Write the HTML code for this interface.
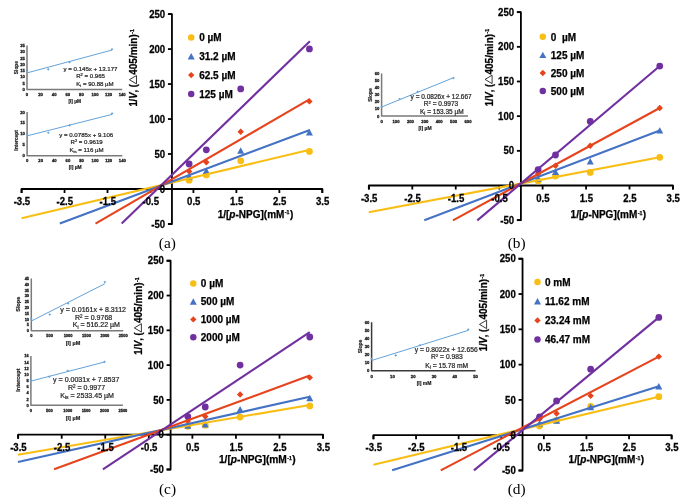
<!DOCTYPE html>
<html><head><meta charset="utf-8"><style>
html,body{margin:0;padding:0;background:#fff;width:685px;height:500px;overflow:hidden}
svg{display:block;filter:blur(0.4px)}
.m{font-weight:bold;fill:#000;stroke:#000;stroke-width:0.25px}
</style></head><body>
<svg width="685" height="500" viewBox="0 0 685 500" style="font-family:'Liberation Sans',sans-serif">
<rect width="685" height="500" fill="#fff"/>
<path d="M27 45.4V89.5H122.2" fill="none" stroke="#7a7a7a" stroke-linejoin="round" stroke-width="1.5"/>
<text x="24.8" y="91.01" text-anchor="end" font-size="4.2" font-weight="bold" fill="#1e1e1e" stroke="#1e1e1e" stroke-width="0.3" >0</text>
<text x="24.8" y="84.71" text-anchor="end" font-size="4.2" font-weight="bold" fill="#1e1e1e" stroke="#1e1e1e" stroke-width="0.3" >5</text>
<text x="24.8" y="78.41" text-anchor="end" font-size="4.2" font-weight="bold" fill="#1e1e1e" stroke="#1e1e1e" stroke-width="0.3" >10</text>
<text x="24.8" y="72.11" text-anchor="end" font-size="4.2" font-weight="bold" fill="#1e1e1e" stroke="#1e1e1e" stroke-width="0.3" >15</text>
<text x="24.8" y="65.81" text-anchor="end" font-size="4.2" font-weight="bold" fill="#1e1e1e" stroke="#1e1e1e" stroke-width="0.3" >20</text>
<text x="24.8" y="59.51" text-anchor="end" font-size="4.2" font-weight="bold" fill="#1e1e1e" stroke="#1e1e1e" stroke-width="0.3" >25</text>
<text x="24.8" y="53.21" text-anchor="end" font-size="4.2" font-weight="bold" fill="#1e1e1e" stroke="#1e1e1e" stroke-width="0.3" >30</text>
<text x="24.8" y="46.91" text-anchor="end" font-size="4.2" font-weight="bold" fill="#1e1e1e" stroke="#1e1e1e" stroke-width="0.3" >35</text>
<text x="27" y="96.11" text-anchor="middle" font-size="4.2" font-weight="bold" fill="#1e1e1e" stroke="#1e1e1e" stroke-width="0.3" >0</text>
<text x="40.6" y="96.11" text-anchor="middle" font-size="4.2" font-weight="bold" fill="#1e1e1e" stroke="#1e1e1e" stroke-width="0.3" >20</text>
<text x="54.2" y="96.11" text-anchor="middle" font-size="4.2" font-weight="bold" fill="#1e1e1e" stroke="#1e1e1e" stroke-width="0.3" >40</text>
<text x="67.8" y="96.11" text-anchor="middle" font-size="4.2" font-weight="bold" fill="#1e1e1e" stroke="#1e1e1e" stroke-width="0.3" >60</text>
<text x="81.4" y="96.11" text-anchor="middle" font-size="4.2" font-weight="bold" fill="#1e1e1e" stroke="#1e1e1e" stroke-width="0.3" >80</text>
<text x="95" y="96.11" text-anchor="middle" font-size="4.2" font-weight="bold" fill="#1e1e1e" stroke="#1e1e1e" stroke-width="0.3" >100</text>
<text x="108.6" y="96.11" text-anchor="middle" font-size="4.2" font-weight="bold" fill="#1e1e1e" stroke="#1e1e1e" stroke-width="0.3" >120</text>
<text x="122.2" y="96.11" text-anchor="middle" font-size="4.2" font-weight="bold" fill="#1e1e1e" stroke="#1e1e1e" stroke-width="0.3" >140</text>
<line x1="27" y1="72.9" x2="112" y2="50.06" stroke="#64A2D8" stroke-width="1.0"/>
<path d="M27 69.3l1.3 1.3l-1.3 1.3l-1.3 -1.3Z" fill="#64A2D8"/>
<path d="M48.22 68.04l1.3 1.3l-1.3 1.3l-1.3 -1.3Z" fill="#64A2D8"/>
<path d="M69.5 60.86l1.3 1.3l-1.3 1.3l-1.3 -1.3Z" fill="#64A2D8"/>
<path d="M112 47.88l1.3 1.3l-1.3 1.3l-1.3 -1.3Z" fill="#64A2D8"/>
<text transform="translate(17.73 67.6) rotate(-90)" text-anchor="middle" font-size="4.8" font-weight="bold" fill="#1e1e1e" stroke="#1e1e1e" stroke-width="0.2" >Slope</text>
<text x="74.7" y="103.03" text-anchor="middle" font-size="4.8" font-weight="bold" fill="#1e1e1e" stroke="#1e1e1e" stroke-width="0.2" >[I] µM</text>
<text x="63.6" y="71.1" font-size="6.1" fill="#262626" stroke="#262626" stroke-width="0.22" >y = 0.145x + 13.177</text>
<text x="76.2" y="78" font-size="6.1" fill="#262626" stroke="#262626" stroke-width="0.22" >R<tspan font-size="65%" dy="-2">2</tspan><tspan dy="2"> = 0.965</tspan></text>
<text x="76.2" y="85.5" font-size="6.1" fill="#262626" stroke="#262626" stroke-width="0.22" >K<tspan font-size="70%" dy="1.2">i</tspan><tspan dy="-1.2"> = 90.88 µM</tspan></text>
<path d="M27.1 112V155.8H122.3" fill="none" stroke="#7a7a7a" stroke-linejoin="round" stroke-width="1.5"/>
<text x="24.9" y="157.31" text-anchor="end" font-size="4.2" font-weight="bold" fill="#1e1e1e" stroke="#1e1e1e" stroke-width="0.3" >0</text>
<text x="24.9" y="146.36" text-anchor="end" font-size="4.2" font-weight="bold" fill="#1e1e1e" stroke="#1e1e1e" stroke-width="0.3" >5</text>
<text x="24.9" y="135.41" text-anchor="end" font-size="4.2" font-weight="bold" fill="#1e1e1e" stroke="#1e1e1e" stroke-width="0.3" >10</text>
<text x="24.9" y="124.46" text-anchor="end" font-size="4.2" font-weight="bold" fill="#1e1e1e" stroke="#1e1e1e" stroke-width="0.3" >15</text>
<text x="24.9" y="113.51" text-anchor="end" font-size="4.2" font-weight="bold" fill="#1e1e1e" stroke="#1e1e1e" stroke-width="0.3" >20</text>
<text x="27.1" y="162.11" text-anchor="middle" font-size="4.2" font-weight="bold" fill="#1e1e1e" stroke="#1e1e1e" stroke-width="0.3" >0</text>
<text x="40.7" y="162.11" text-anchor="middle" font-size="4.2" font-weight="bold" fill="#1e1e1e" stroke="#1e1e1e" stroke-width="0.3" >20</text>
<text x="54.3" y="162.11" text-anchor="middle" font-size="4.2" font-weight="bold" fill="#1e1e1e" stroke="#1e1e1e" stroke-width="0.3" >40</text>
<text x="67.9" y="162.11" text-anchor="middle" font-size="4.2" font-weight="bold" fill="#1e1e1e" stroke="#1e1e1e" stroke-width="0.3" >60</text>
<text x="81.5" y="162.11" text-anchor="middle" font-size="4.2" font-weight="bold" fill="#1e1e1e" stroke="#1e1e1e" stroke-width="0.3" >80</text>
<text x="95.1" y="162.11" text-anchor="middle" font-size="4.2" font-weight="bold" fill="#1e1e1e" stroke="#1e1e1e" stroke-width="0.3" >100</text>
<text x="108.7" y="162.11" text-anchor="middle" font-size="4.2" font-weight="bold" fill="#1e1e1e" stroke="#1e1e1e" stroke-width="0.3" >120</text>
<text x="122.3" y="162.11" text-anchor="middle" font-size="4.2" font-weight="bold" fill="#1e1e1e" stroke="#1e1e1e" stroke-width="0.3" >140</text>
<line x1="27.1" y1="135.86" x2="112.1" y2="114.37" stroke="#64A2D8" stroke-width="1.0"/>
<path d="M27.1 132.6l1.3 1.3l-1.3 1.3l-1.3 -1.3Z" fill="#64A2D8"/>
<path d="M48.32 131.5l1.3 1.3l-1.3 1.3l-1.3 -1.3Z" fill="#64A2D8"/>
<path d="M69.6 124.06l1.3 1.3l-1.3 1.3l-1.3 -1.3Z" fill="#64A2D8"/>
<path d="M112.1 112.23l1.3 1.3l-1.3 1.3l-1.3 -1.3Z" fill="#64A2D8"/>
<text transform="translate(18.36 140.4) rotate(-90)" text-anchor="middle" font-size="4.9" font-weight="bold" fill="#1e1e1e" stroke="#1e1e1e" stroke-width="0.2" >Intercept</text>
<text x="75.1" y="168.76" text-anchor="middle" font-size="4.9" font-weight="bold" fill="#1e1e1e" stroke="#1e1e1e" stroke-width="0.2" >[I] µM</text>
<text x="59.3" y="136.5" font-size="6.1" fill="#262626" stroke="#262626" stroke-width="0.22" >y = 0.0785x + 9.106</text>
<text x="70.5" y="143.9" font-size="6.1" fill="#262626" stroke="#262626" stroke-width="0.22" >R<tspan font-size="65%" dy="-2">2</tspan><tspan dy="2"> = 0.9619</tspan></text>
<text x="69.5" y="151.5" font-size="6.1" fill="#262626" stroke="#262626" stroke-width="0.22" >K<tspan font-size="70%" dy="1.2">is</tspan><tspan dy="-1.2"> = 116 µM</tspan></text>
<path d="M381.6 73.4V116H468" fill="none" stroke="#7a7a7a" stroke-linejoin="round" stroke-width="1.5"/>
<text x="379.4" y="117.51" text-anchor="end" font-size="4.2" font-weight="bold" fill="#1e1e1e" stroke="#1e1e1e" stroke-width="0.3" >0</text>
<text x="379.4" y="110.41" text-anchor="end" font-size="4.2" font-weight="bold" fill="#1e1e1e" stroke="#1e1e1e" stroke-width="0.3" >10</text>
<text x="379.4" y="103.31" text-anchor="end" font-size="4.2" font-weight="bold" fill="#1e1e1e" stroke="#1e1e1e" stroke-width="0.3" >20</text>
<text x="379.4" y="96.21" text-anchor="end" font-size="4.2" font-weight="bold" fill="#1e1e1e" stroke="#1e1e1e" stroke-width="0.3" >30</text>
<text x="379.4" y="89.11" text-anchor="end" font-size="4.2" font-weight="bold" fill="#1e1e1e" stroke="#1e1e1e" stroke-width="0.3" >40</text>
<text x="379.4" y="82.01" text-anchor="end" font-size="4.2" font-weight="bold" fill="#1e1e1e" stroke="#1e1e1e" stroke-width="0.3" >50</text>
<text x="379.4" y="74.91" text-anchor="end" font-size="4.2" font-weight="bold" fill="#1e1e1e" stroke="#1e1e1e" stroke-width="0.3" >60</text>
<text x="381.6" y="122.51" text-anchor="middle" font-size="4.2" font-weight="bold" fill="#1e1e1e" stroke="#1e1e1e" stroke-width="0.3" >0</text>
<text x="396" y="122.51" text-anchor="middle" font-size="4.2" font-weight="bold" fill="#1e1e1e" stroke="#1e1e1e" stroke-width="0.3" >100</text>
<text x="410.4" y="122.51" text-anchor="middle" font-size="4.2" font-weight="bold" fill="#1e1e1e" stroke="#1e1e1e" stroke-width="0.3" >200</text>
<text x="424.8" y="122.51" text-anchor="middle" font-size="4.2" font-weight="bold" fill="#1e1e1e" stroke="#1e1e1e" stroke-width="0.3" >300</text>
<text x="439.2" y="122.51" text-anchor="middle" font-size="4.2" font-weight="bold" fill="#1e1e1e" stroke="#1e1e1e" stroke-width="0.3" >400</text>
<text x="453.6" y="122.51" text-anchor="middle" font-size="4.2" font-weight="bold" fill="#1e1e1e" stroke="#1e1e1e" stroke-width="0.3" >500</text>
<text x="468" y="122.51" text-anchor="middle" font-size="4.2" font-weight="bold" fill="#1e1e1e" stroke="#1e1e1e" stroke-width="0.3" >600</text>
<line x1="381.6" y1="107.01" x2="453.6" y2="77.68" stroke="#64A2D8" stroke-width="1.0"/>
<path d="M381.6 105.68l1.3 1.3l-1.3 1.3l-1.3 -1.3Z" fill="#64A2D8"/>
<path d="M399.6 97.66l1.3 1.3l-1.3 1.3l-1.3 -1.3Z" fill="#64A2D8"/>
<path d="M417.6 90.56l1.3 1.3l-1.3 1.3l-1.3 -1.3Z" fill="#64A2D8"/>
<path d="M453.6 76.72l1.3 1.3l-1.3 1.3l-1.3 -1.3Z" fill="#64A2D8"/>
<text transform="translate(371.7 95) rotate(-90)" text-anchor="middle" font-size="5.0" font-weight="bold" fill="#1e1e1e" stroke="#1e1e1e" stroke-width="0.2" >Slope</text>
<text x="425" y="130.4" text-anchor="middle" font-size="5.0" font-weight="bold" fill="#1e1e1e" stroke="#1e1e1e" stroke-width="0.2" >[I] µM</text>
<text x="410.6" y="99.2" font-size="6.5" fill="#262626" stroke="#262626" stroke-width="0.22" >y = 0.0826x + 12.667</text>
<text x="423.8" y="106.3" font-size="6.5" fill="#262626" stroke="#262626" stroke-width="0.22" >R<tspan font-size="65%" dy="-2">2</tspan><tspan dy="2"> = 0.9973</tspan></text>
<text x="420" y="114.2" font-size="6.5" fill="#262626" stroke="#262626" stroke-width="0.22" >K<tspan font-size="70%" dy="1.2">i</tspan><tspan dy="-1.2"> = 153.35 µM</tspan></text>
<path d="M31.3 278.5V330.7H123.3" fill="none" stroke="#7a7a7a" stroke-linejoin="round" stroke-width="1.5"/>
<text x="29.1" y="332.14" text-anchor="end" font-size="4.0" font-weight="bold" fill="#1e1e1e" stroke="#1e1e1e" stroke-width="0.3" >0</text>
<text x="29.1" y="326.34" text-anchor="end" font-size="4.0" font-weight="bold" fill="#1e1e1e" stroke="#1e1e1e" stroke-width="0.3" >5</text>
<text x="29.1" y="320.54" text-anchor="end" font-size="4.0" font-weight="bold" fill="#1e1e1e" stroke="#1e1e1e" stroke-width="0.3" >10</text>
<text x="29.1" y="314.74" text-anchor="end" font-size="4.0" font-weight="bold" fill="#1e1e1e" stroke="#1e1e1e" stroke-width="0.3" >15</text>
<text x="29.1" y="308.94" text-anchor="end" font-size="4.0" font-weight="bold" fill="#1e1e1e" stroke="#1e1e1e" stroke-width="0.3" >20</text>
<text x="29.1" y="303.14" text-anchor="end" font-size="4.0" font-weight="bold" fill="#1e1e1e" stroke="#1e1e1e" stroke-width="0.3" >25</text>
<text x="29.1" y="297.34" text-anchor="end" font-size="4.0" font-weight="bold" fill="#1e1e1e" stroke="#1e1e1e" stroke-width="0.3" >30</text>
<text x="29.1" y="291.54" text-anchor="end" font-size="4.0" font-weight="bold" fill="#1e1e1e" stroke="#1e1e1e" stroke-width="0.3" >35</text>
<text x="29.1" y="285.74" text-anchor="end" font-size="4.0" font-weight="bold" fill="#1e1e1e" stroke="#1e1e1e" stroke-width="0.3" >40</text>
<text x="29.1" y="279.94" text-anchor="end" font-size="4.0" font-weight="bold" fill="#1e1e1e" stroke="#1e1e1e" stroke-width="0.3" >45</text>
<text x="31.3" y="337.44" text-anchor="middle" font-size="4.0" font-weight="bold" fill="#1e1e1e" stroke="#1e1e1e" stroke-width="0.3" >0</text>
<text x="49.7" y="337.44" text-anchor="middle" font-size="4.0" font-weight="bold" fill="#1e1e1e" stroke="#1e1e1e" stroke-width="0.3" >500</text>
<text x="68.1" y="337.44" text-anchor="middle" font-size="4.0" font-weight="bold" fill="#1e1e1e" stroke="#1e1e1e" stroke-width="0.3" >1000</text>
<text x="86.5" y="337.44" text-anchor="middle" font-size="4.0" font-weight="bold" fill="#1e1e1e" stroke="#1e1e1e" stroke-width="0.3" >1500</text>
<text x="104.9" y="337.44" text-anchor="middle" font-size="4.0" font-weight="bold" fill="#1e1e1e" stroke="#1e1e1e" stroke-width="0.3" >2000</text>
<text x="123.3" y="337.44" text-anchor="middle" font-size="4.0" font-weight="bold" fill="#1e1e1e" stroke="#1e1e1e" stroke-width="0.3" >2500</text>
<line x1="31.3" y1="321.06" x2="104.9" y2="283.71" stroke="#64A2D8" stroke-width="1.0"/>
<path d="M31.3 317.8l1.3 1.3l-1.3 1.3l-1.3 -1.3Z" fill="#64A2D8"/>
<path d="M49.7 313.16l1.3 1.3l-1.3 1.3l-1.3 -1.3Z" fill="#64A2D8"/>
<path d="M68.1 302.14l1.3 1.3l-1.3 1.3l-1.3 -1.3Z" fill="#64A2D8"/>
<path d="M104.9 280.68l1.3 1.3l-1.3 1.3l-1.3 -1.3Z" fill="#64A2D8"/>
<text transform="translate(20.38 304.2) rotate(-90)" text-anchor="middle" font-size="5.5" font-weight="bold" fill="#1e1e1e" stroke="#1e1e1e" stroke-width="0.2" >Slope</text>
<text x="73" y="344.98" text-anchor="middle" font-size="5.5" font-weight="bold" fill="#1e1e1e" stroke="#1e1e1e" stroke-width="0.2" >[I] µM</text>
<text x="60.3" y="312.1" font-size="7.05" fill="#262626" stroke="#262626" stroke-width="0.22" >y = 0.0161x + 8.3112</text>
<text x="75" y="320.3" font-size="7.05" fill="#262626" stroke="#262626" stroke-width="0.22" >R<tspan font-size="65%" dy="-2">2</tspan><tspan dy="2"> = 0.9768</tspan></text>
<text x="72.7" y="327.3" font-size="7.05" fill="#262626" stroke="#262626" stroke-width="0.22" >K<tspan font-size="70%" dy="1.2">i</tspan><tspan dy="-1.2"> = 516.22 µM</tspan></text>
<path d="M30.9 356.02V405.3H122.9" fill="none" stroke="#7a7a7a" stroke-linejoin="round" stroke-width="1.5"/>
<text x="28.7" y="406.74" text-anchor="end" font-size="4.0" font-weight="bold" fill="#1e1e1e" stroke="#1e1e1e" stroke-width="0.3" >0</text>
<text x="28.7" y="400.58" text-anchor="end" font-size="4.0" font-weight="bold" fill="#1e1e1e" stroke="#1e1e1e" stroke-width="0.3" >2</text>
<text x="28.7" y="394.42" text-anchor="end" font-size="4.0" font-weight="bold" fill="#1e1e1e" stroke="#1e1e1e" stroke-width="0.3" >4</text>
<text x="28.7" y="388.26" text-anchor="end" font-size="4.0" font-weight="bold" fill="#1e1e1e" stroke="#1e1e1e" stroke-width="0.3" >6</text>
<text x="28.7" y="382.1" text-anchor="end" font-size="4.0" font-weight="bold" fill="#1e1e1e" stroke="#1e1e1e" stroke-width="0.3" >8</text>
<text x="28.7" y="375.94" text-anchor="end" font-size="4.0" font-weight="bold" fill="#1e1e1e" stroke="#1e1e1e" stroke-width="0.3" >10</text>
<text x="28.7" y="369.78" text-anchor="end" font-size="4.0" font-weight="bold" fill="#1e1e1e" stroke="#1e1e1e" stroke-width="0.3" >12</text>
<text x="28.7" y="363.62" text-anchor="end" font-size="4.0" font-weight="bold" fill="#1e1e1e" stroke="#1e1e1e" stroke-width="0.3" >14</text>
<text x="28.7" y="357.46" text-anchor="end" font-size="4.0" font-weight="bold" fill="#1e1e1e" stroke="#1e1e1e" stroke-width="0.3" >16</text>
<text x="30.9" y="411.94" text-anchor="middle" font-size="4.0" font-weight="bold" fill="#1e1e1e" stroke="#1e1e1e" stroke-width="0.3" >0</text>
<text x="49.3" y="411.94" text-anchor="middle" font-size="4.0" font-weight="bold" fill="#1e1e1e" stroke="#1e1e1e" stroke-width="0.3" >500</text>
<text x="67.7" y="411.94" text-anchor="middle" font-size="4.0" font-weight="bold" fill="#1e1e1e" stroke="#1e1e1e" stroke-width="0.3" >1000</text>
<text x="86.1" y="411.94" text-anchor="middle" font-size="4.0" font-weight="bold" fill="#1e1e1e" stroke="#1e1e1e" stroke-width="0.3" >1500</text>
<text x="104.5" y="411.94" text-anchor="middle" font-size="4.0" font-weight="bold" fill="#1e1e1e" stroke="#1e1e1e" stroke-width="0.3" >2000</text>
<text x="122.9" y="411.94" text-anchor="middle" font-size="4.0" font-weight="bold" fill="#1e1e1e" stroke="#1e1e1e" stroke-width="0.3" >2500</text>
<line x1="30.9" y1="381.11" x2="104.5" y2="362.01" stroke="#64A2D8" stroke-width="1.0"/>
<path d="M30.9 379.36l1.3 1.3l-1.3 1.3l-1.3 -1.3Z" fill="#64A2D8"/>
<path d="M49.3 375.36l1.3 1.3l-1.3 1.3l-1.3 -1.3Z" fill="#64A2D8"/>
<path d="M67.7 369.5l1.3 1.3l-1.3 1.3l-1.3 -1.3Z" fill="#64A2D8"/>
<path d="M104.5 360.57l1.3 1.3l-1.3 1.3l-1.3 -1.3Z" fill="#64A2D8"/>
<text transform="translate(20.38 380.1) rotate(-90)" text-anchor="middle" font-size="5.5" font-weight="bold" fill="#1e1e1e" stroke="#1e1e1e" stroke-width="0.2" >Intercept</text>
<text x="73" y="419.98" text-anchor="middle" font-size="5.5" font-weight="bold" fill="#1e1e1e" stroke="#1e1e1e" stroke-width="0.2" >[I] µM</text>
<text x="53.1" y="382" font-size="7.05" fill="#262626" stroke="#262626" stroke-width="0.22" >y = 0.0031x + 7.8537</text>
<text x="67.9" y="390" font-size="7.05" fill="#262626" stroke="#262626" stroke-width="0.22" >R<tspan font-size="65%" dy="-2">2</tspan><tspan dy="2"> = 0.9977</tspan></text>
<text x="60.3" y="398.1" font-size="7.05" fill="#262626" stroke="#262626" stroke-width="0.22" >K<tspan font-size="70%" dy="1.2">is</tspan><tspan dy="-1.2"> = 2533.45 µM</tspan></text>
<path d="M371.6 322.2V370.8H475.6" fill="none" stroke="#3a3a3a" stroke-linejoin="round" stroke-width="1.5"/>
<text x="369.4" y="372.31" text-anchor="end" font-size="4.2" font-weight="bold" fill="#1e1e1e" stroke="#1e1e1e" stroke-width="0.3" >0</text>
<text x="369.4" y="364.21" text-anchor="end" font-size="4.2" font-weight="bold" fill="#1e1e1e" stroke="#1e1e1e" stroke-width="0.3" >10</text>
<text x="369.4" y="356.11" text-anchor="end" font-size="4.2" font-weight="bold" fill="#1e1e1e" stroke="#1e1e1e" stroke-width="0.3" >20</text>
<text x="369.4" y="348.01" text-anchor="end" font-size="4.2" font-weight="bold" fill="#1e1e1e" stroke="#1e1e1e" stroke-width="0.3" >30</text>
<text x="369.4" y="339.91" text-anchor="end" font-size="4.2" font-weight="bold" fill="#1e1e1e" stroke="#1e1e1e" stroke-width="0.3" >40</text>
<text x="369.4" y="331.81" text-anchor="end" font-size="4.2" font-weight="bold" fill="#1e1e1e" stroke="#1e1e1e" stroke-width="0.3" >50</text>
<text x="369.4" y="323.71" text-anchor="end" font-size="4.2" font-weight="bold" fill="#1e1e1e" stroke="#1e1e1e" stroke-width="0.3" >60</text>
<text x="371.6" y="378.11" text-anchor="middle" font-size="4.2" font-weight="bold" fill="#1e1e1e" stroke="#1e1e1e" stroke-width="0.3" >0</text>
<text x="392.4" y="378.11" text-anchor="middle" font-size="4.2" font-weight="bold" fill="#1e1e1e" stroke="#1e1e1e" stroke-width="0.3" >10</text>
<text x="413.2" y="378.11" text-anchor="middle" font-size="4.2" font-weight="bold" fill="#1e1e1e" stroke="#1e1e1e" stroke-width="0.3" >20</text>
<text x="434" y="378.11" text-anchor="middle" font-size="4.2" font-weight="bold" fill="#1e1e1e" stroke="#1e1e1e" stroke-width="0.3" >30</text>
<text x="454.8" y="378.11" text-anchor="middle" font-size="4.2" font-weight="bold" fill="#1e1e1e" stroke="#1e1e1e" stroke-width="0.3" >40</text>
<text x="475.6" y="378.11" text-anchor="middle" font-size="4.2" font-weight="bold" fill="#1e1e1e" stroke="#1e1e1e" stroke-width="0.3" >50</text>
<line x1="371.6" y1="360.55" x2="468.26" y2="330.35" stroke="#64A2D8" stroke-width="1.0"/>
<path d="M371.6 357.35l1.3 1.3l-1.3 1.3l-1.3 -1.3Z" fill="#64A2D8"/>
<path d="M395.77 354.11l1.3 1.3l-1.3 1.3l-1.3 -1.3Z" fill="#64A2D8"/>
<path d="M419.94 343.99l1.3 1.3l-1.3 1.3l-1.3 -1.3Z" fill="#64A2D8"/>
<path d="M468.26 328.19l1.3 1.3l-1.3 1.3l-1.3 -1.3Z" fill="#64A2D8"/>
<text transform="translate(362.3 346.5) rotate(-90)" text-anchor="middle" font-size="5.0" font-weight="bold" fill="#1e1e1e" stroke="#1e1e1e" stroke-width="0.2" >Slope</text>
<text x="424" y="385.4" text-anchor="middle" font-size="5.0" font-weight="bold" fill="#1e1e1e" stroke="#1e1e1e" stroke-width="0.2" >[I] mM</text>
<text x="414.8" y="352" font-size="6.7" fill="#262626" stroke="#262626" stroke-width="0.22" >y = 0.8022x + 12.656</text>
<text x="431" y="359.4" font-size="6.7" fill="#262626" stroke="#262626" stroke-width="0.22" >R<tspan font-size="65%" dy="-2">2</tspan><tspan dy="2"> = 0.983</tspan></text>
<text x="425.3" y="367.8" font-size="6.7" fill="#262626" stroke="#262626" stroke-width="0.22" >K<tspan font-size="70%" dy="1.2">i</tspan><tspan dy="-1.2"> = 15.78 mM</tspan></text>
<path d="M167.95 14.07H171.95V223.99H167.95" fill="none" stroke="#000" stroke-linejoin="round" stroke-width="1.8"/>
<line x1="167.95" y1="223.99" x2="171.95" y2="223.99" stroke="#000" stroke-width="1.8"/>
<line x1="167.95" y1="189" x2="171.95" y2="189" stroke="#000" stroke-width="1.8"/>
<line x1="167.95" y1="154.01" x2="171.95" y2="154.01" stroke="#000" stroke-width="1.8"/>
<line x1="167.95" y1="119.03" x2="171.95" y2="119.03" stroke="#000" stroke-width="1.8"/>
<line x1="167.95" y1="84.05" x2="171.95" y2="84.05" stroke="#000" stroke-width="1.8"/>
<line x1="167.95" y1="49.06" x2="171.95" y2="49.06" stroke="#000" stroke-width="1.8"/>
<line x1="167.95" y1="14.07" x2="171.95" y2="14.07" stroke="#000" stroke-width="1.8"/>
<path d="M21.59 193V189H322.31V193" fill="none" stroke="#000" stroke-linejoin="round" stroke-width="1.8"/>
<line x1="21.59" y1="189" x2="21.59" y2="193" stroke="#000" stroke-width="1.8"/>
<line x1="64.55" y1="189" x2="64.55" y2="193" stroke="#000" stroke-width="1.8"/>
<line x1="107.51" y1="189" x2="107.51" y2="193" stroke="#000" stroke-width="1.8"/>
<line x1="150.47" y1="189" x2="150.47" y2="193" stroke="#000" stroke-width="1.8"/>
<line x1="193.43" y1="189" x2="193.43" y2="193" stroke="#000" stroke-width="1.8"/>
<line x1="236.39" y1="189" x2="236.39" y2="193" stroke="#000" stroke-width="1.8"/>
<line x1="279.35" y1="189" x2="279.35" y2="193" stroke="#000" stroke-width="1.8"/>
<line x1="322.31" y1="189" x2="322.31" y2="193" stroke="#000" stroke-width="1.8"/>
<circle cx="189.13" cy="180.17" r="3.4" fill="#F8BE14"/>
<circle cx="206.32" cy="174.88" r="3.4" fill="#F8BE14"/>
<circle cx="240.69" cy="160.82" r="3.4" fill="#F8BE14"/>
<circle cx="309.42" cy="151.42" r="3.4" fill="#F8BE14"/>
<path d="M189.13 173.07L192.63 179.47L185.63 179.47Z" fill="#4472C4"/>
<path d="M206.32 167.5L209.82 173.9L202.82 173.9Z" fill="#4472C4"/>
<path d="M240.69 147.32L244.19 153.72L237.19 153.72Z" fill="#4472C4"/>
<path d="M309.42 129.02L312.92 135.42L305.92 135.42Z" fill="#4472C4"/>
<path d="M189.13 168.2L192.33 171.4L189.13 174.6L185.93 171.4Z" fill="#E6441C"/>
<path d="M206.32 159.01L209.52 162.21L206.32 165.41L203.12 162.21Z" fill="#E6441C"/>
<path d="M240.69 128.6L243.89 131.8L240.69 135L237.49 131.8Z" fill="#E6441C"/>
<path d="M309.42 98.18L312.62 101.38L309.42 104.58L306.22 101.38Z" fill="#E6441C"/>
<circle cx="189.13" cy="164.02" r="3.4" fill="#7030A0"/>
<circle cx="206.32" cy="149.82" r="3.4" fill="#7030A0"/>
<circle cx="240.69" cy="88.92" r="3.4" fill="#7030A0"/>
<circle cx="309.42" cy="48.9" r="3.4" fill="#7030A0"/>
<line x1="21.59" y1="218.17" x2="309.85" y2="149.82" stroke="#F8BE14" stroke-width="2.1"/>
<line x1="59.82" y1="223.6" x2="309.85" y2="129.92" stroke="#4472C4" stroke-width="2.1"/>
<line x1="95.48" y1="223.6" x2="309.85" y2="99.09" stroke="#E6441C" stroke-width="2.1"/>
<line x1="121.69" y1="223.6" x2="309.85" y2="41.25" stroke="#7030A0" stroke-width="2.1"/>
<text transform="translate(165.15 227.59) scale(1 1.06)" text-anchor="end" font-size="9.6" class="m">-50</text>
<text transform="translate(165.15 192.6) scale(1 1.06)" text-anchor="end" font-size="9.6" class="m">0</text>
<text transform="translate(165.15 157.61) scale(1 1.06)" text-anchor="end" font-size="9.6" class="m">50</text>
<text transform="translate(165.15 122.63) scale(1 1.06)" text-anchor="end" font-size="9.6" class="m">100</text>
<text transform="translate(165.15 87.64) scale(1 1.06)" text-anchor="end" font-size="9.6" class="m">150</text>
<text transform="translate(165.15 52.66) scale(1 1.06)" text-anchor="end" font-size="9.6" class="m">200</text>
<text transform="translate(165.15 17.67) scale(1 1.06)" text-anchor="end" font-size="9.6" class="m">250</text>
<text transform="translate(21.89 205.1) scale(1 1.06)" text-anchor="middle" font-size="9.6" class="m">-3.5</text>
<text transform="translate(64.85 205.1) scale(1 1.06)" text-anchor="middle" font-size="9.6" class="m">-2.5</text>
<text transform="translate(107.81 205.1) scale(1 1.06)" text-anchor="middle" font-size="9.6" class="m">-1.5</text>
<text transform="translate(150.77 205.1) scale(1 1.06)" text-anchor="middle" font-size="9.6" class="m">-0.5</text>
<text transform="translate(193.73 205.1) scale(1 1.06)" text-anchor="middle" font-size="9.6" class="m">0.5</text>
<text transform="translate(236.69 205.1) scale(1 1.06)" text-anchor="middle" font-size="9.6" class="m">1.5</text>
<text transform="translate(279.65 205.1) scale(1 1.06)" text-anchor="middle" font-size="9.6" class="m">2.5</text>
<text transform="translate(322.61 205.1) scale(1 1.06)" text-anchor="middle" font-size="9.6" class="m">3.5</text>
<text x="217.7" y="217.6" font-size="10" class="m">1/[<tspan font-style="italic">p</tspan>-NPG](mM<tspan font-size="5.2" dx="0.5" dy="-3.3">-1</tspan><tspan dx="0.4" dy="3.3">)</tspan></text>
<g transform="translate(137 106.6) rotate(-90)"><text x="0" y="0" font-size="10.0" class="m" textLength="22.4" lengthAdjust="spacingAndGlyphs">1/<tspan font-style="italic">V</tspan>, (</text><path d="M22.7 -0.5L31.1 -0.5L26.9 -7.6Z" fill="none" stroke="#222" stroke-width="0.9"/><text x="31.8" y="0" font-size="10.0" class="m">405/min)<tspan font-size="5.2" dx="0.5" dy="-3.3">-1</tspan></text></g>
<circle cx="191.2" cy="37.5" r="3.23" fill="#F8BE14"/>
<text x="199.2" y="41.3" font-size="10" class="m" xml:space="preserve">0 µM</text>
<path d="M191.2 53.1L194.7 59.5L187.7 59.5Z" fill="#4472C4"/>
<text x="199.2" y="60.1" font-size="10" class="m" xml:space="preserve">31.2 µM</text>
<path d="M191.2 71.9L194.4 75.1L191.2 78.3L188 75.1Z" fill="#E6441C"/>
<text x="199.2" y="78.9" font-size="10" class="m" xml:space="preserve">62.5 µM</text>
<circle cx="191.2" cy="93.9" r="3.23" fill="#7030A0"/>
<text x="199.2" y="97.7" font-size="10" class="m" xml:space="preserve">125 µM</text>
<text x="167.4" y="248.3" text-anchor="middle" font-size="15.4" style="font-family:'Liberation Serif',serif">(a)</text>
<path d="M516.9 12.17H520.9V220.16H516.9" fill="none" stroke="#000" stroke-linejoin="round" stroke-width="1.8"/>
<line x1="516.9" y1="220.16" x2="520.9" y2="220.16" stroke="#000" stroke-width="1.8"/>
<line x1="516.9" y1="185.5" x2="520.9" y2="185.5" stroke="#000" stroke-width="1.8"/>
<line x1="516.9" y1="150.84" x2="520.9" y2="150.84" stroke="#000" stroke-width="1.8"/>
<line x1="516.9" y1="116.17" x2="520.9" y2="116.17" stroke="#000" stroke-width="1.8"/>
<line x1="516.9" y1="81.5" x2="520.9" y2="81.5" stroke="#000" stroke-width="1.8"/>
<line x1="516.9" y1="46.84" x2="520.9" y2="46.84" stroke="#000" stroke-width="1.8"/>
<line x1="516.9" y1="12.17" x2="520.9" y2="12.17" stroke="#000" stroke-width="1.8"/>
<path d="M368.86 189.5V185.5H672.94V189.5" fill="none" stroke="#000" stroke-linejoin="round" stroke-width="1.8"/>
<line x1="368.86" y1="185.5" x2="368.86" y2="189.5" stroke="#000" stroke-width="1.8"/>
<line x1="412.3" y1="185.5" x2="412.3" y2="189.5" stroke="#000" stroke-width="1.8"/>
<line x1="455.74" y1="185.5" x2="455.74" y2="189.5" stroke="#000" stroke-width="1.8"/>
<line x1="499.18" y1="185.5" x2="499.18" y2="189.5" stroke="#000" stroke-width="1.8"/>
<line x1="542.62" y1="185.5" x2="542.62" y2="189.5" stroke="#000" stroke-width="1.8"/>
<line x1="586.06" y1="185.5" x2="586.06" y2="189.5" stroke="#000" stroke-width="1.8"/>
<line x1="629.5" y1="185.5" x2="629.5" y2="189.5" stroke="#000" stroke-width="1.8"/>
<line x1="672.94" y1="185.5" x2="672.94" y2="189.5" stroke="#000" stroke-width="1.8"/>
<circle cx="538.13" cy="181.01" r="3.4" fill="#F8BE14"/>
<circle cx="555.5" cy="176.01" r="3.4" fill="#F8BE14"/>
<circle cx="590.25" cy="172.39" r="3.4" fill="#F8BE14"/>
<circle cx="659.76" cy="157.31" r="3.4" fill="#F8BE14"/>
<path d="M538.13 175.45L541.63 181.85L534.63 181.85Z" fill="#4472C4"/>
<path d="M555.5 168.71L559 175.11L552 175.11Z" fill="#4472C4"/>
<path d="M590.25 158.01L593.75 164.41L586.75 164.41Z" fill="#4472C4"/>
<path d="M659.76 127.22L663.26 133.62L656.26 133.62Z" fill="#4472C4"/>
<path d="M538.13 170.59L541.33 173.78L538.13 176.98L534.93 173.78Z" fill="#E6441C"/>
<path d="M555.5 162.52L558.7 165.72L555.5 168.92L552.3 165.72Z" fill="#E6441C"/>
<path d="M590.25 142.58L593.45 145.78L590.25 148.98L587.05 145.78Z" fill="#E6441C"/>
<path d="M659.76 104.84L662.96 108.04L659.76 111.24L656.56 108.04Z" fill="#E6441C"/>
<circle cx="538.13" cy="169.62" r="3.4" fill="#7030A0"/>
<circle cx="555.5" cy="155.02" r="3.4" fill="#7030A0"/>
<circle cx="590.25" cy="121.38" r="3.4" fill="#7030A0"/>
<circle cx="659.76" cy="66.06" r="3.4" fill="#7030A0"/>
<line x1="368.71" y1="212.22" x2="659.76" y2="157.31" stroke="#F8BE14" stroke-width="2.1"/>
<line x1="424.31" y1="220.35" x2="659.76" y2="130.42" stroke="#4472C4" stroke-width="2.1"/>
<line x1="452.98" y1="220.35" x2="659.76" y2="108.04" stroke="#E6441C" stroke-width="2.1"/>
<line x1="477.31" y1="220.35" x2="659.76" y2="66.06" stroke="#7030A0" stroke-width="2.1"/>
<text transform="translate(514.1 223.76) scale(1 1.06)" text-anchor="end" font-size="9.6" class="m">-50</text>
<text transform="translate(514.1 189.1) scale(1 1.06)" text-anchor="end" font-size="9.6" class="m">0</text>
<text transform="translate(514.1 154.44) scale(1 1.06)" text-anchor="end" font-size="9.6" class="m">50</text>
<text transform="translate(514.1 119.77) scale(1 1.06)" text-anchor="end" font-size="9.6" class="m">100</text>
<text transform="translate(514.1 85.1) scale(1 1.06)" text-anchor="end" font-size="9.6" class="m">150</text>
<text transform="translate(514.1 50.44) scale(1 1.06)" text-anchor="end" font-size="9.6" class="m">200</text>
<text transform="translate(514.1 15.77) scale(1 1.06)" text-anchor="end" font-size="9.6" class="m">250</text>
<text transform="translate(369.16 201.6) scale(1 1.06)" text-anchor="middle" font-size="9.6" class="m">-3.5</text>
<text transform="translate(412.6 201.6) scale(1 1.06)" text-anchor="middle" font-size="9.6" class="m">-2.5</text>
<text transform="translate(456.04 201.6) scale(1 1.06)" text-anchor="middle" font-size="9.6" class="m">-1.5</text>
<text transform="translate(499.48 201.6) scale(1 1.06)" text-anchor="middle" font-size="9.6" class="m">-0.5</text>
<text transform="translate(542.92 201.6) scale(1 1.06)" text-anchor="middle" font-size="9.6" class="m">0.5</text>
<text transform="translate(586.36 201.6) scale(1 1.06)" text-anchor="middle" font-size="9.6" class="m">1.5</text>
<text transform="translate(629.8 201.6) scale(1 1.06)" text-anchor="middle" font-size="9.6" class="m">2.5</text>
<text transform="translate(673.24 201.6) scale(1 1.06)" text-anchor="middle" font-size="9.6" class="m">3.5</text>
<text x="570.6" y="217.8" font-size="10" class="m">1/[<tspan font-style="italic">p</tspan>-NPG](mM<tspan font-size="5.2" dx="0.5" dy="-3.3">-1</tspan><tspan dx="0.4" dy="3.3">)</tspan></text>
<g transform="translate(492.6 106.3) rotate(-90)"><text x="0" y="0" font-size="10.0" class="m" textLength="22.4" lengthAdjust="spacingAndGlyphs">1/<tspan font-style="italic">V</tspan>, (</text><path d="M22.7 -0.5L31.1 -0.5L26.9 -7.6Z" fill="none" stroke="#222" stroke-width="0.9"/><text x="31.8" y="0" font-size="10.0" class="m">405/min)<tspan font-size="5.2" dx="0.5" dy="-3.3">-1</tspan></text></g>
<circle cx="542.8" cy="36.8" r="3.23" fill="#F8BE14"/>
<text x="550.8" y="40.6" font-size="10" class="m" xml:space="preserve">0  µM</text>
<path d="M542.8 51.7L546.3 58.1L539.3 58.1Z" fill="#4472C4"/>
<text x="550.8" y="58.7" font-size="10" class="m" xml:space="preserve">125 µM</text>
<path d="M542.8 69.8L546 73L542.8 76.2L539.6 73Z" fill="#E6441C"/>
<text x="550.8" y="76.8" font-size="10" class="m" xml:space="preserve">250 µM</text>
<circle cx="542.8" cy="91.1" r="3.23" fill="#7030A0"/>
<text x="550.8" y="94.9" font-size="10" class="m" xml:space="preserve">500 µM</text>
<text x="516.7" y="248.3" text-anchor="middle" font-size="15.4" style="font-family:'Liberation Serif',serif">(b)</text>
<path d="M166.6 260.75H170.6V469.49H166.6" fill="none" stroke="#000" stroke-linejoin="round" stroke-width="1.8"/>
<line x1="166.6" y1="469.49" x2="170.6" y2="469.49" stroke="#000" stroke-width="1.8"/>
<line x1="166.6" y1="434.7" x2="170.6" y2="434.7" stroke="#000" stroke-width="1.8"/>
<line x1="166.6" y1="399.91" x2="170.6" y2="399.91" stroke="#000" stroke-width="1.8"/>
<line x1="166.6" y1="365.12" x2="170.6" y2="365.12" stroke="#000" stroke-width="1.8"/>
<line x1="166.6" y1="330.33" x2="170.6" y2="330.33" stroke="#000" stroke-width="1.8"/>
<line x1="166.6" y1="295.54" x2="170.6" y2="295.54" stroke="#000" stroke-width="1.8"/>
<line x1="166.6" y1="260.75" x2="170.6" y2="260.75" stroke="#000" stroke-width="1.8"/>
<path d="M18.14 438.7V434.7H323.06V438.7" fill="none" stroke="#000" stroke-linejoin="round" stroke-width="1.8"/>
<line x1="18.14" y1="434.7" x2="18.14" y2="438.7" stroke="#000" stroke-width="1.8"/>
<line x1="61.7" y1="434.7" x2="61.7" y2="438.7" stroke="#000" stroke-width="1.8"/>
<line x1="105.26" y1="434.7" x2="105.26" y2="438.7" stroke="#000" stroke-width="1.8"/>
<line x1="148.82" y1="434.7" x2="148.82" y2="438.7" stroke="#000" stroke-width="1.8"/>
<line x1="192.38" y1="434.7" x2="192.38" y2="438.7" stroke="#000" stroke-width="1.8"/>
<line x1="235.94" y1="434.7" x2="235.94" y2="438.7" stroke="#000" stroke-width="1.8"/>
<line x1="279.5" y1="434.7" x2="279.5" y2="438.7" stroke="#000" stroke-width="1.8"/>
<line x1="323.06" y1="434.7" x2="323.06" y2="438.7" stroke="#000" stroke-width="1.8"/>
<circle cx="187.82" cy="426.26" r="3.4" fill="#F8BE14"/>
<circle cx="205.25" cy="425.22" r="3.4" fill="#F8BE14"/>
<circle cx="240.1" cy="417.09" r="3.4" fill="#F8BE14"/>
<circle cx="309.79" cy="405.9" r="3.4" fill="#F8BE14"/>
<path d="M187.82 422.37L191.32 428.76L184.32 428.76Z" fill="#4472C4"/>
<path d="M205.25 420.98L208.75 427.38L201.75 427.38Z" fill="#4472C4"/>
<path d="M240.1 406.1L243.6 412.5L236.6 412.5Z" fill="#4472C4"/>
<path d="M309.79 394.84L313.29 401.24L306.29 401.24Z" fill="#4472C4"/>
<path d="M187.82 417.78L191.02 420.98L187.82 424.18L184.62 420.98Z" fill="#E6441C"/>
<path d="M205.25 413.33L208.45 416.53L205.25 419.73L202.05 416.53Z" fill="#E6441C"/>
<path d="M240.1 391.23L243.3 394.43L240.1 397.63L236.9 394.43Z" fill="#E6441C"/>
<path d="M309.79 374.41L312.99 377.61L309.79 380.81L306.59 377.61Z" fill="#E6441C"/>
<circle cx="187.82" cy="416.53" r="3.4" fill="#7030A0"/>
<circle cx="205.25" cy="407.01" r="3.4" fill="#7030A0"/>
<circle cx="240.1" cy="365.1" r="3.4" fill="#7030A0"/>
<circle cx="309.79" cy="337.02" r="3.4" fill="#7030A0"/>
<line x1="17.94" y1="454.69" x2="309.79" y2="404.99" stroke="#F8BE14" stroke-width="2.1"/>
<line x1="17.94" y1="461.98" x2="309.79" y2="396.72" stroke="#4472C4" stroke-width="2.1"/>
<line x1="54.09" y1="469.35" x2="309.79" y2="375.59" stroke="#E6441C" stroke-width="2.1"/>
<line x1="102.88" y1="469.35" x2="309.79" y2="332.23" stroke="#7030A0" stroke-width="2.1"/>
<text transform="translate(163.8 473.09) scale(1 1.06)" text-anchor="end" font-size="9.6" class="m">-50</text>
<text transform="translate(163.8 438.3) scale(1 1.06)" text-anchor="end" font-size="9.6" class="m">0</text>
<text transform="translate(163.8 403.51) scale(1 1.06)" text-anchor="end" font-size="9.6" class="m">50</text>
<text transform="translate(163.8 368.72) scale(1 1.06)" text-anchor="end" font-size="9.6" class="m">100</text>
<text transform="translate(163.8 333.93) scale(1 1.06)" text-anchor="end" font-size="9.6" class="m">150</text>
<text transform="translate(163.8 299.14) scale(1 1.06)" text-anchor="end" font-size="9.6" class="m">200</text>
<text transform="translate(163.8 264.35) scale(1 1.06)" text-anchor="end" font-size="9.6" class="m">250</text>
<text transform="translate(18.44 450.8) scale(1 1.06)" text-anchor="middle" font-size="9.6" class="m">-3.5</text>
<text transform="translate(62 450.8) scale(1 1.06)" text-anchor="middle" font-size="9.6" class="m">-2.5</text>
<text transform="translate(105.56 450.8) scale(1 1.06)" text-anchor="middle" font-size="9.6" class="m">-1.5</text>
<text transform="translate(149.12 450.8) scale(1 1.06)" text-anchor="middle" font-size="9.6" class="m">-0.5</text>
<text transform="translate(192.68 450.8) scale(1 1.06)" text-anchor="middle" font-size="9.6" class="m">0.5</text>
<text transform="translate(236.24 450.8) scale(1 1.06)" text-anchor="middle" font-size="9.6" class="m">1.5</text>
<text transform="translate(279.8 450.8) scale(1 1.06)" text-anchor="middle" font-size="9.6" class="m">2.5</text>
<text transform="translate(323.36 450.8) scale(1 1.06)" text-anchor="middle" font-size="9.6" class="m">3.5</text>
<text x="218.9" y="463.1" font-size="10.2" class="m">1/[<tspan font-style="italic">p</tspan>-NPG](mM<tspan font-size="5.2" dx="0.5" dy="-3.3">-1</tspan><tspan dx="0.4" dy="3.3">)</tspan></text>
<g transform="translate(141.9 354.8) rotate(-90)"><text x="0" y="0" font-size="10.0" class="m" textLength="22.4" lengthAdjust="spacingAndGlyphs">1/<tspan font-style="italic">V</tspan>, (</text><path d="M22.7 -0.5L31.1 -0.5L26.9 -7.6Z" fill="none" stroke="#222" stroke-width="0.9"/><text x="31.8" y="0" font-size="10.0" class="m">405/min)<tspan font-size="5.2" dx="0.5" dy="-3.3">-1</tspan></text></g>
<circle cx="193.3" cy="283.6" r="3.23" fill="#F8BE14"/>
<text x="200.8" y="287.4" font-size="10" class="m" xml:space="preserve">0 µM</text>
<path d="M193.3 298.3L196.8 304.7L189.8 304.7Z" fill="#4472C4"/>
<text x="200.8" y="305.3" font-size="10" class="m" xml:space="preserve">500 µM</text>
<path d="M193.3 316.2L196.5 319.4L193.3 322.6L190.1 319.4Z" fill="#E6441C"/>
<text x="200.8" y="323.2" font-size="10" class="m" xml:space="preserve">1000 µM</text>
<circle cx="193.3" cy="337.3" r="3.23" fill="#7030A0"/>
<text x="200.8" y="341.1" font-size="10" class="m" xml:space="preserve">2000 µM</text>
<text x="167.5" y="494" text-anchor="middle" font-size="15.4" style="font-family:'Liberation Serif',serif">(c)</text>
<path d="M518.55 258.75H522.55V470.49H518.55" fill="none" stroke="#000" stroke-linejoin="round" stroke-width="1.8"/>
<line x1="518.55" y1="470.49" x2="522.55" y2="470.49" stroke="#000" stroke-width="1.8"/>
<line x1="518.55" y1="435.2" x2="522.55" y2="435.2" stroke="#000" stroke-width="1.8"/>
<line x1="518.55" y1="399.91" x2="522.55" y2="399.91" stroke="#000" stroke-width="1.8"/>
<line x1="518.55" y1="364.62" x2="522.55" y2="364.62" stroke="#000" stroke-width="1.8"/>
<line x1="518.55" y1="329.33" x2="522.55" y2="329.33" stroke="#000" stroke-width="1.8"/>
<line x1="518.55" y1="294.04" x2="522.55" y2="294.04" stroke="#000" stroke-width="1.8"/>
<line x1="518.55" y1="258.75" x2="522.55" y2="258.75" stroke="#000" stroke-width="1.8"/>
<path d="M373.45 439.2V435.2H671.65V439.2" fill="none" stroke="#000" stroke-linejoin="round" stroke-width="1.8"/>
<line x1="373.45" y1="435.2" x2="373.45" y2="439.2" stroke="#000" stroke-width="1.8"/>
<line x1="416.05" y1="435.2" x2="416.05" y2="439.2" stroke="#000" stroke-width="1.8"/>
<line x1="458.65" y1="435.2" x2="458.65" y2="439.2" stroke="#000" stroke-width="1.8"/>
<line x1="501.25" y1="435.2" x2="501.25" y2="439.2" stroke="#000" stroke-width="1.8"/>
<line x1="543.85" y1="435.2" x2="543.85" y2="439.2" stroke="#000" stroke-width="1.8"/>
<line x1="586.45" y1="435.2" x2="586.45" y2="439.2" stroke="#000" stroke-width="1.8"/>
<line x1="629.05" y1="435.2" x2="629.05" y2="439.2" stroke="#000" stroke-width="1.8"/>
<line x1="671.65" y1="435.2" x2="671.65" y2="439.2" stroke="#000" stroke-width="1.8"/>
<circle cx="539.54" cy="426.06" r="3.4" fill="#F8BE14"/>
<circle cx="556.58" cy="420.51" r="3.4" fill="#F8BE14"/>
<circle cx="590.66" cy="406.52" r="3.4" fill="#F8BE14"/>
<circle cx="658.82" cy="396.68" r="3.4" fill="#F8BE14"/>
<path d="M539.54 420.05L543.04 426.45L536.04 426.45Z" fill="#4472C4"/>
<path d="M556.58 417.31L560.08 423.71L553.08 423.71Z" fill="#4472C4"/>
<path d="M590.66 403.81L594.16 410.21L587.16 410.21Z" fill="#4472C4"/>
<path d="M658.82 383.07L662.32 389.47L655.32 389.47Z" fill="#4472C4"/>
<path d="M539.54 415.83L542.74 419.03L539.54 422.23L536.34 419.03Z" fill="#E6441C"/>
<path d="M556.58 410.28L559.78 413.48L556.58 416.68L553.38 413.48Z" fill="#E6441C"/>
<path d="M590.66 392.63L593.86 395.83L590.66 399.03L587.46 395.83Z" fill="#E6441C"/>
<path d="M658.82 353.4L662.02 356.6L658.82 359.8L655.62 356.6Z" fill="#E6441C"/>
<circle cx="539.54" cy="416.78" r="3.4" fill="#7030A0"/>
<circle cx="556.58" cy="400.89" r="3.4" fill="#7030A0"/>
<circle cx="590.66" cy="369.19" r="3.4" fill="#7030A0"/>
<circle cx="658.82" cy="317.38" r="3.4" fill="#7030A0"/>
<line x1="373.4" y1="464.73" x2="658.82" y2="396.68" stroke="#F8BE14" stroke-width="2.1"/>
<line x1="392.14" y1="470.35" x2="658.82" y2="386.27" stroke="#4472C4" stroke-width="2.1"/>
<line x1="440.71" y1="470.35" x2="658.82" y2="356.6" stroke="#E6441C" stroke-width="2.1"/>
<line x1="473.94" y1="470.35" x2="658.82" y2="317.38" stroke="#7030A0" stroke-width="2.1"/>
<text transform="translate(515.75 474.09) scale(1 1.06)" text-anchor="end" font-size="9.6" class="m">-50</text>
<text transform="translate(515.75 438.8) scale(1 1.06)" text-anchor="end" font-size="9.6" class="m">0</text>
<text transform="translate(515.75 403.51) scale(1 1.06)" text-anchor="end" font-size="9.6" class="m">50</text>
<text transform="translate(515.75 368.22) scale(1 1.06)" text-anchor="end" font-size="9.6" class="m">100</text>
<text transform="translate(515.75 332.93) scale(1 1.06)" text-anchor="end" font-size="9.6" class="m">150</text>
<text transform="translate(515.75 297.64) scale(1 1.06)" text-anchor="end" font-size="9.6" class="m">200</text>
<text transform="translate(515.75 262.35) scale(1 1.06)" text-anchor="end" font-size="9.6" class="m">250</text>
<text transform="translate(373.75 451.3) scale(1 1.06)" text-anchor="middle" font-size="9.6" class="m">-3.5</text>
<text transform="translate(416.35 451.3) scale(1 1.06)" text-anchor="middle" font-size="9.6" class="m">-2.5</text>
<text transform="translate(458.95 451.3) scale(1 1.06)" text-anchor="middle" font-size="9.6" class="m">-1.5</text>
<text transform="translate(501.55 451.3) scale(1 1.06)" text-anchor="middle" font-size="9.6" class="m">-0.5</text>
<text transform="translate(544.15 451.3) scale(1 1.06)" text-anchor="middle" font-size="9.6" class="m">0.5</text>
<text transform="translate(586.75 451.3) scale(1 1.06)" text-anchor="middle" font-size="9.6" class="m">1.5</text>
<text transform="translate(629.35 451.3) scale(1 1.06)" text-anchor="middle" font-size="9.6" class="m">2.5</text>
<text transform="translate(671.95 451.3) scale(1 1.06)" text-anchor="middle" font-size="9.6" class="m">3.5</text>
<text x="568.6" y="463.1" font-size="10" class="m">1/[<tspan font-style="italic">p</tspan>-NPG](mM<tspan font-size="5.2" dx="0.5" dy="-3.3">-1</tspan><tspan dx="0.4" dy="3.3">)</tspan></text>
<g transform="translate(487.1 351.3) rotate(-90)"><text x="0" y="0" font-size="10.0" class="m" textLength="22.4" lengthAdjust="spacingAndGlyphs">1/<tspan font-style="italic">V</tspan>, (</text><path d="M22.7 -0.5L31.1 -0.5L26.9 -7.6Z" fill="none" stroke="#222" stroke-width="0.9"/><text x="31.8" y="0" font-size="10.0" class="m">405/min)<tspan font-size="5.2" dx="0.5" dy="-3.3">-1</tspan></text></g>
<circle cx="537.5" cy="282" r="3.23" fill="#F8BE14"/>
<text x="545" y="285.8" font-size="10" class="m" xml:space="preserve">0 mM</text>
<path d="M537.5 298L541 304.4L534 304.4Z" fill="#4472C4"/>
<text x="545" y="305" font-size="10" class="m" xml:space="preserve">11.62 mM</text>
<path d="M537.5 317.2L540.7 320.4L537.5 323.6L534.3 320.4Z" fill="#E6441C"/>
<text x="545" y="324.2" font-size="10" class="m" xml:space="preserve">23.24 mM</text>
<circle cx="537.5" cy="339.6" r="3.23" fill="#7030A0"/>
<text x="545" y="343.4" font-size="10" class="m" xml:space="preserve">46.47 mM</text>
<text x="516.7" y="494" text-anchor="middle" font-size="15.4" style="font-family:'Liberation Serif',serif">(d)</text>
</svg>
</body></html>
